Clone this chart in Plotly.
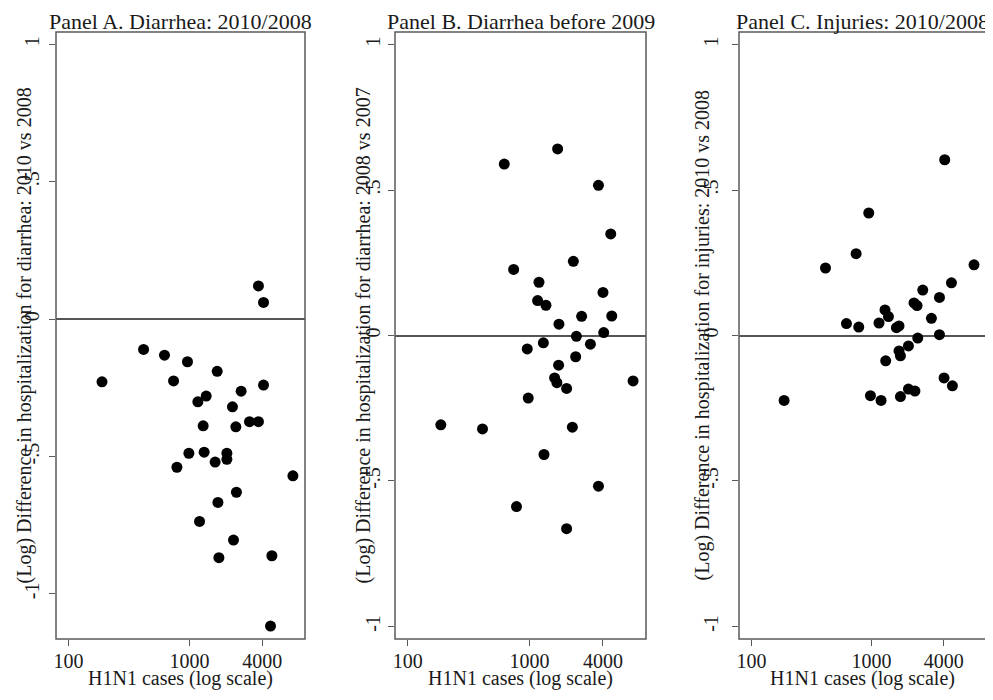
import plotly.graph_objects as go

# ---------------- data ----------------
panel_titles = ["Panel A. Diarrhea: 2010/2008",
                "Panel B. Diarrhea before 2009",
                "Panel C. Injuries: 2010/2008"]
y_titles = ["(Log) Difference in hospitalization for diarrhea: 2010 vs 2008",
            "(Log) Difference in hospitalization for diarrhea: 2008 vs 2007",
            "(Log) Difference in hospitalization for injuries: 2010 vs 2008"]
x_title = "H1N1 cases (log scale)"

x_tickvals = [100, 1000, 4000]
x_ticktext = ["100", "1000", "4000"]
y_tickvals = [-1, -0.5, 0, 0.5, 1]
y_ticktext = ["-1", "-.5", "0", ".5", "1"]

cases_a = [189, 417, 621, 962, 738, 1694, 4093, 2673, 1374, 1172, 2265, 3133,
           3715, 1297, 2416, 988, 1322, 2037, 2037, 1629, 787, 7160, 2443,
           1718, 1211, 2311, 1750, 4800, 4677, 3715, 4093]
diff_a = [-0.228, -0.110, -0.131, -0.155, -0.225, -0.190, -0.240, -0.262,
          -0.280, -0.301, -0.319, -0.373, -0.373, -0.388, -0.392, -0.488,
          -0.484, -0.488, -0.510, -0.520, -0.539, -0.570, -0.630, -0.667,
          -0.736, -0.804, -0.868, -0.861, -1.117, 0.121, 0.061]

cases_b = [620, 1698, 3672, 4632, 740, 2286, 1194, 4000, 1164, 1362, 2673,
           4721, 1741, 4055, 2421, 1297, 3155, 957, 2388, 1730, 1604, 1675,
           2012, 7063, 975, 187, 411, 2244, 1313, 3672, 781, 2012]
diff_b = [0.589, 0.641, 0.516, 0.349, 0.227, 0.255, 0.183, 0.148, 0.120,
          0.104, 0.066, 0.067, 0.039, 0.010, -0.003, -0.025, -0.030, -0.046,
          -0.073, -0.102, -0.146, -0.162, -0.182, -0.156, -0.215, -0.307,
          -0.321, -0.315, -0.409, -0.518, -0.588, -0.664]

cases_c = [4082, 950, 745, 414, 7162, 4645, 2678, 3690, 2265, 2399, 1297,
           1386, 3162, 619, 784, 1157, 1615, 1698, 3690, 2433, 2034, 1698,
           1745, 1315, 4030, 4730, 2034, 2305, 981, 1203, 1745, 187]
diff_c = [0.604, 0.421, 0.281, 0.232, 0.243, 0.181, 0.156, 0.131, 0.112,
          0.103, 0.088, 0.065, 0.059, 0.041, 0.029, 0.043, 0.027, 0.033,
          0.003, -0.009, -0.036, -0.053, -0.070, -0.087, -0.146, -0.173,
          -0.184, -0.191, -0.207, -0.223, -0.210, -0.223]

panels_x = [cases_a, cases_b, cases_c]
panels_y = [diff_a, diff_b, diff_c]

# ---------------- layout geometry ----------------
W, H = 993, 700
OFF = 8  # page body margin: figure is drawn 8px right/down in the window
box_left = [56, 395, 739]
box_right = [305, 646, 986]
box_top, box_bottom = 32, 639
y_ranges = [[-1.164, 1.045], [-1.043, 1.043], [-1.043, 1.043]]
x_range_log = [1.896, 3.955]
ytitle_x = [24, 363, 702]
ytick_standoff = [2, 0, 6]


def px_x(p):
    return (p - OFF) / W


def px_y(p):
    return 1 - (p - OFF) / H


FONT = "Liberation Serif, Times New Roman, serif"
TXT = "#1a1a1a"
LINE = "#5a5a5a"

fig = go.Figure()
layout = dict(
    width=W, height=H,
    margin=dict(l=0, r=0, t=0, b=0, autoexpand=False),
    paper_bgcolor="white", plot_bgcolor="white",
    showlegend=False,
    font=dict(family=FONT, color=TXT),
)
annotations = []
shapes = []

for i in range(3):
    sfx = "" if i == 0 else str(i + 1)
    fig.add_trace(go.Scatter(
        x=panels_x[i], y=panels_y[i], mode="markers",
        marker=dict(color="black", size=11, line=dict(width=0)),
        xaxis="x" + sfx, yaxis="y" + sfx, hoverinfo="x+y", cliponaxis=False))
    xd = [px_x(box_left[i]), px_x(box_right[i])]
    yd = [px_y(box_bottom), px_y(box_top)]
    layout["xaxis" + sfx] = dict(
        domain=xd, type="log", range=x_range_log, anchor="y" + sfx,
        tickvals=x_tickvals, ticktext=x_ticktext,
        ticks="outside", ticklen=6, tickwidth=1.3, tickcolor=LINE,
        showline=False, showgrid=False, zeroline=False,
        tickfont=dict(family=FONT, size=20, color=TXT),
        ticklabelstandoff=-2,
    )
    layout["yaxis" + sfx] = dict(
        domain=yd, range=y_ranges[i], anchor="x" + sfx,
        tickvals=y_tickvals, ticktext=y_ticktext, tickangle=-90,
        ticks="outside", ticklen=6, tickwidth=1.3, tickcolor=LINE,
        showline=False, showgrid=False,
        zeroline=True, zerolinecolor="#555555", zerolinewidth=1.6,
        tickfont=dict(family=FONT, size=20, color=TXT),
        ticklabelstandoff=ytick_standoff[i],
    )
    # plot frame
    shapes.append(dict(type="rect", xref="paper", yref="paper",
                       x0=xd[0], x1=xd[1], y0=yd[0], y1=yd[1],
                       line=dict(color=LINE, width=1.5),
                       fillcolor="rgba(0,0,0,0)", layer="above"))
    cx = px_x((box_left[i] + box_right[i]) / 2)
    annotations.append(dict(
        text=panel_titles[i], xref="paper", yref="paper",
        x=cx, y=1.0, xanchor="center", yanchor="top", borderpad=0,
        showarrow=False, font=dict(family=FONT, size=22, color=TXT)))
    annotations.append(dict(
        text=x_title, xref="paper", yref="paper",
        x=cx, y=px_y(678), xanchor="center", yanchor="middle",
        showarrow=False, font=dict(family=FONT, size=20, color=TXT)))
    annotations.append(dict(
        text=y_titles[i], xref="paper", yref="paper",
        x=px_x(ytitle_x[i]), y=px_y((box_top + box_bottom) / 2),
        xanchor="center", yanchor="middle", textangle=-90,
        showarrow=False, font=dict(family=FONT, size=20, color=TXT)))

layout["annotations"] = annotations
layout["shapes"] = shapes
fig.update_layout(**layout)
fig.write_html("out.html")
